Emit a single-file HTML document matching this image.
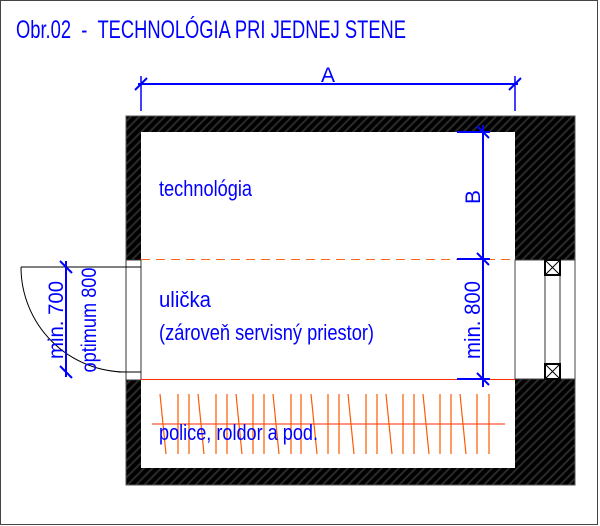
<!DOCTYPE html>
<html><head><meta charset="utf-8"><style>
html,body{margin:0;padding:0;background:#fff;}
svg{display:block;}
text{font-family:"Liberation Sans",sans-serif;fill:#0000ff;}
</style></head><body>
<svg width="600" height="526" viewBox="0 0 600 526" xmlns="http://www.w3.org/2000/svg">
<defs>
<pattern id="h" width="6" height="6" patternUnits="userSpaceOnUse" patternTransform="rotate(45)">
<rect width="6" height="6" fill="#000"/>
<rect width="2" height="6" fill="#2a2a2a"/>
</pattern>
</defs>
<rect x="0.5" y="0.5" width="597" height="524" fill="#fff" stroke="#444"/>
<text x="16" y="38" font-size="25" textLength="390" lengthAdjust="spacingAndGlyphs">Obr.02&#160;&#160;-&#160;&#160;TECHNOLÓGIA PRI JEDNEJ STENE</text>

<rect x="126" y="116" width="449" height="369" fill="url(#h)"/>
<rect x="141" y="132" width="374" height="336" fill="#fff"/>
<rect x="126" y="116" width="449" height="369" fill="none" stroke="#555" stroke-width="1"/>
<rect x="126" y="260" width="15" height="120" fill="#fff"/>
<line x1="126" y1="260" x2="126" y2="380" stroke="#333"/>
<line x1="141" y1="260" x2="141" y2="380" stroke="#333"/>
<line x1="126" y1="260" x2="141" y2="260" stroke="#333"/>
<line x1="126" y1="380" x2="141" y2="380" stroke="#333"/>
<line x1="21" y1="267" x2="141" y2="267" stroke="#000"/>
<line x1="118" y1="372" x2="141" y2="372" stroke="#000"/>
<path d="M21 267 A105 105 0 0 0 126 372" fill="none" stroke="#000"/>
<rect x="515" y="260" width="60" height="119" fill="#fff" stroke="#444"/>
<line x1="545" y1="260" x2="545" y2="379" stroke="#333"/>
<line x1="560" y1="260" x2="560" y2="379" stroke="#333"/>
<rect x="545" y="260" width="15" height="15" fill="#fff" stroke="#000" stroke-width="2"/>
<path d="M545 260L560 275M560 260L545 275" stroke="#000"/>
<rect x="545" y="364" width="15" height="15" fill="#fff" stroke="#000" stroke-width="2"/>
<path d="M545 364L560 379M560 364L545 379" stroke="#000"/>

<line x1="141" y1="259.5" x2="515" y2="259.5" stroke="#ff6a1a" stroke-dasharray="9,6"/>
<line x1="141" y1="379.5" x2="515" y2="379.5" stroke="#ff2a00"/>
<line x1="152" y1="424" x2="505" y2="424" stroke="#ff2a00"/>
<g stroke="#ff5a00" stroke-width="1.2">
<line x1="160" y1="394" x2="166" y2="454"/>
<line x1="178" y1="394" x2="178" y2="454"/>
<line x1="189" y1="394" x2="189" y2="454"/>
<line x1="198" y1="394" x2="204" y2="454"/>
<line x1="216" y1="394" x2="216" y2="454"/>
<line x1="227" y1="394" x2="227" y2="454"/>
<line x1="236" y1="394" x2="242" y2="454"/>
<line x1="253" y1="394" x2="253" y2="454"/>
<line x1="264" y1="394" x2="264" y2="454"/>
<line x1="273" y1="394" x2="279" y2="454"/>
<line x1="291" y1="394" x2="291" y2="454"/>
<line x1="301" y1="394" x2="301" y2="454"/>
<line x1="311" y1="394" x2="317" y2="454"/>
<line x1="328" y1="394" x2="328" y2="454"/>
<line x1="339" y1="394" x2="339" y2="454"/>
<line x1="348" y1="394" x2="354" y2="454"/>
<line x1="366" y1="394" x2="366" y2="454"/>
<line x1="377" y1="394" x2="377" y2="454"/>
<line x1="386" y1="394" x2="392" y2="454"/>
<line x1="403" y1="394" x2="403" y2="454"/>
<line x1="414" y1="394" x2="414" y2="454"/>
<line x1="423" y1="394" x2="429" y2="454"/>
<line x1="440" y1="394" x2="440" y2="454"/>
<line x1="451" y1="394" x2="451" y2="454"/>
<line x1="460" y1="394" x2="466" y2="454"/>
<line x1="477" y1="394" x2="477" y2="454"/>
<line x1="489" y1="394" x2="489" y2="454"/>
</g>

<g stroke="#0000ff" stroke-width="1.5">
<line x1="138" y1="84" x2="518" y2="84" stroke-width="2"/>
<line x1="141" y1="76" x2="141" y2="111"/>
<line x1="515" y1="76" x2="515" y2="111"/>
<line x1="135" y1="90" x2="147" y2="78" stroke-width="2"/>
<line x1="509" y1="90" x2="521" y2="78" stroke-width="2"/>
<line x1="483" y1="125" x2="483" y2="387" stroke-width="2"/>
<line x1="457" y1="132" x2="490" y2="132" stroke-width="2"/>
<line x1="457" y1="259" x2="490" y2="259" stroke-width="2"/>
<line x1="457" y1="379" x2="490" y2="379" stroke-width="2"/>
<line x1="477" y1="126" x2="489" y2="138" stroke-width="2"/>
<line x1="477" y1="253" x2="489" y2="265" stroke-width="2"/>
<line x1="477" y1="373" x2="489" y2="385" stroke-width="2"/>
<line x1="66" y1="261" x2="66" y2="377" stroke-width="2"/>
<line x1="60" y1="261" x2="72" y2="273" stroke-width="2"/>
<line x1="60" y1="366" x2="72" y2="378" stroke-width="2"/>
</g>
<text x="328" y="82" font-size="21" text-anchor="middle">A</text>
<text transform="translate(480,197) rotate(-90)" font-size="21" text-anchor="middle">B</text>
<text transform="translate(480,320) rotate(-90)" font-size="22" text-anchor="middle" textLength="78" lengthAdjust="spacingAndGlyphs">min. 800</text>
<text transform="translate(63,320) rotate(-90)" font-size="21" text-anchor="middle" textLength="78" lengthAdjust="spacingAndGlyphs">min. 700</text>
<text transform="translate(96,320) rotate(-90)" font-size="21" text-anchor="middle" textLength="105" lengthAdjust="spacingAndGlyphs">optimum 800</text>

<text x="159" y="196" font-size="22" textLength="93" lengthAdjust="spacingAndGlyphs">technológia</text>
<text x="159" y="307" font-size="22" textLength="52" lengthAdjust="spacingAndGlyphs">ulička</text>
<text x="159" y="340" font-size="22" textLength="215" lengthAdjust="spacingAndGlyphs">(zároveň servisný priestor)</text>
<text x="159" y="440" font-size="22" textLength="159" lengthAdjust="spacingAndGlyphs">police, roldor a pod.</text>
</svg>
</body></html>
